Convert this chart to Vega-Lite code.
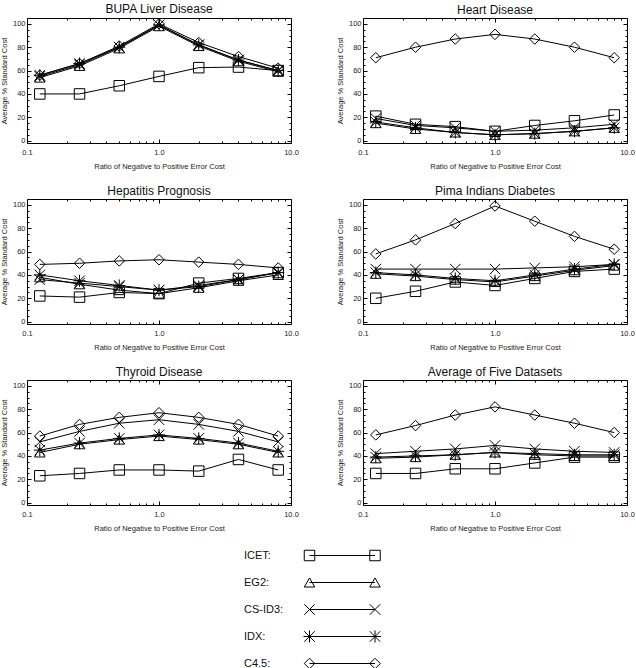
{
  "$schema": "https://vega.github.io/schema/vega-lite/v6.json",
  "background": "white",
  "padding": {"left": 0, "top": 2, "right": 0, "bottom": 0},
  "datasets": {
    "results": [
      {"set": "BUPA Liver Disease", "method": "ICET", "ratio": 0.125, "cost": 40},
      {"set": "BUPA Liver Disease", "method": "ICET", "ratio": 0.25, "cost": 40},
      {"set": "BUPA Liver Disease", "method": "ICET", "ratio": 0.5, "cost": 47},
      {"set": "BUPA Liver Disease", "method": "ICET", "ratio": 1, "cost": 55},
      {"set": "BUPA Liver Disease", "method": "ICET", "ratio": 2, "cost": 62.5},
      {"set": "BUPA Liver Disease", "method": "ICET", "ratio": 4, "cost": 63},
      {"set": "BUPA Liver Disease", "method": "ICET", "ratio": 8, "cost": 60},
      {"set": "BUPA Liver Disease", "method": "EG2", "ratio": 0.125, "cost": 54},
      {"set": "BUPA Liver Disease", "method": "EG2", "ratio": 0.25, "cost": 64},
      {"set": "BUPA Liver Disease", "method": "EG2", "ratio": 0.5, "cost": 79},
      {"set": "BUPA Liver Disease", "method": "EG2", "ratio": 1, "cost": 98},
      {"set": "BUPA Liver Disease", "method": "EG2", "ratio": 2, "cost": 81},
      {"set": "BUPA Liver Disease", "method": "EG2", "ratio": 4, "cost": 68},
      {"set": "BUPA Liver Disease", "method": "EG2", "ratio": 8, "cost": 59},
      {"set": "BUPA Liver Disease", "method": "CS-ID3", "ratio": 0.125, "cost": 55},
      {"set": "BUPA Liver Disease", "method": "CS-ID3", "ratio": 0.25, "cost": 65},
      {"set": "BUPA Liver Disease", "method": "CS-ID3", "ratio": 0.5, "cost": 80},
      {"set": "BUPA Liver Disease", "method": "CS-ID3", "ratio": 1, "cost": 99},
      {"set": "BUPA Liver Disease", "method": "CS-ID3", "ratio": 2, "cost": 82},
      {"set": "BUPA Liver Disease", "method": "CS-ID3", "ratio": 4, "cost": 69},
      {"set": "BUPA Liver Disease", "method": "CS-ID3", "ratio": 8, "cost": 60},
      {"set": "BUPA Liver Disease", "method": "IDX", "ratio": 0.125, "cost": 56},
      {"set": "BUPA Liver Disease", "method": "IDX", "ratio": 0.25, "cost": 66},
      {"set": "BUPA Liver Disease", "method": "IDX", "ratio": 0.5, "cost": 80},
      {"set": "BUPA Liver Disease", "method": "IDX", "ratio": 1, "cost": 99},
      {"set": "BUPA Liver Disease", "method": "IDX", "ratio": 2, "cost": 82},
      {"set": "BUPA Liver Disease", "method": "IDX", "ratio": 4, "cost": 69},
      {"set": "BUPA Liver Disease", "method": "IDX", "ratio": 8, "cost": 60},
      {"set": "BUPA Liver Disease", "method": "C4.5", "ratio": 0.125, "cost": 56},
      {"set": "BUPA Liver Disease", "method": "C4.5", "ratio": 0.25, "cost": 66},
      {"set": "BUPA Liver Disease", "method": "C4.5", "ratio": 0.5, "cost": 81},
      {"set": "BUPA Liver Disease", "method": "C4.5", "ratio": 1, "cost": 100},
      {"set": "BUPA Liver Disease", "method": "C4.5", "ratio": 2, "cost": 84},
      {"set": "BUPA Liver Disease", "method": "C4.5", "ratio": 4, "cost": 72},
      {"set": "BUPA Liver Disease", "method": "C4.5", "ratio": 8, "cost": 62},

      {"set": "Heart Disease", "method": "ICET", "ratio": 0.125, "cost": 21},
      {"set": "Heart Disease", "method": "ICET", "ratio": 0.25, "cost": 14},
      {"set": "Heart Disease", "method": "ICET", "ratio": 0.5, "cost": 12},
      {"set": "Heart Disease", "method": "ICET", "ratio": 1, "cost": 8},
      {"set": "Heart Disease", "method": "ICET", "ratio": 2, "cost": 13},
      {"set": "Heart Disease", "method": "ICET", "ratio": 4, "cost": 17},
      {"set": "Heart Disease", "method": "ICET", "ratio": 8, "cost": 22},
      {"set": "Heart Disease", "method": "EG2", "ratio": 0.125, "cost": 15},
      {"set": "Heart Disease", "method": "EG2", "ratio": 0.25, "cost": 10},
      {"set": "Heart Disease", "method": "EG2", "ratio": 0.5, "cost": 7},
      {"set": "Heart Disease", "method": "EG2", "ratio": 1, "cost": 5},
      {"set": "Heart Disease", "method": "EG2", "ratio": 2, "cost": 6},
      {"set": "Heart Disease", "method": "EG2", "ratio": 4, "cost": 8},
      {"set": "Heart Disease", "method": "EG2", "ratio": 8, "cost": 11},
      {"set": "Heart Disease", "method": "CS-ID3", "ratio": 0.125, "cost": 19},
      {"set": "Heart Disease", "method": "CS-ID3", "ratio": 0.25, "cost": 13},
      {"set": "Heart Disease", "method": "CS-ID3", "ratio": 0.5, "cost": 11},
      {"set": "Heart Disease", "method": "CS-ID3", "ratio": 1, "cost": 8},
      {"set": "Heart Disease", "method": "CS-ID3", "ratio": 2, "cost": 9},
      {"set": "Heart Disease", "method": "CS-ID3", "ratio": 4, "cost": 11},
      {"set": "Heart Disease", "method": "CS-ID3", "ratio": 8, "cost": 14},
      {"set": "Heart Disease", "method": "IDX", "ratio": 0.125, "cost": 16},
      {"set": "Heart Disease", "method": "IDX", "ratio": 0.25, "cost": 11},
      {"set": "Heart Disease", "method": "IDX", "ratio": 0.5, "cost": 7},
      {"set": "Heart Disease", "method": "IDX", "ratio": 1, "cost": 5},
      {"set": "Heart Disease", "method": "IDX", "ratio": 2, "cost": 6},
      {"set": "Heart Disease", "method": "IDX", "ratio": 4, "cost": 8},
      {"set": "Heart Disease", "method": "IDX", "ratio": 8, "cost": 11},
      {"set": "Heart Disease", "method": "C4.5", "ratio": 0.125, "cost": 71},
      {"set": "Heart Disease", "method": "C4.5", "ratio": 0.25, "cost": 80},
      {"set": "Heart Disease", "method": "C4.5", "ratio": 0.5, "cost": 87},
      {"set": "Heart Disease", "method": "C4.5", "ratio": 1, "cost": 91},
      {"set": "Heart Disease", "method": "C4.5", "ratio": 2, "cost": 87},
      {"set": "Heart Disease", "method": "C4.5", "ratio": 4, "cost": 80},
      {"set": "Heart Disease", "method": "C4.5", "ratio": 8, "cost": 71},

      {"set": "Hepatitis Prognosis", "method": "ICET", "ratio": 0.125, "cost": 22},
      {"set": "Hepatitis Prognosis", "method": "ICET", "ratio": 0.25, "cost": 21},
      {"set": "Hepatitis Prognosis", "method": "ICET", "ratio": 0.5, "cost": 25},
      {"set": "Hepatitis Prognosis", "method": "ICET", "ratio": 1, "cost": 24},
      {"set": "Hepatitis Prognosis", "method": "ICET", "ratio": 2, "cost": 33},
      {"set": "Hepatitis Prognosis", "method": "ICET", "ratio": 4, "cost": 37},
      {"set": "Hepatitis Prognosis", "method": "ICET", "ratio": 8, "cost": 42},
      {"set": "Hepatitis Prognosis", "method": "EG2", "ratio": 0.125, "cost": 38},
      {"set": "Hepatitis Prognosis", "method": "EG2", "ratio": 0.25, "cost": 32},
      {"set": "Hepatitis Prognosis", "method": "EG2", "ratio": 0.5, "cost": 27},
      {"set": "Hepatitis Prognosis", "method": "EG2", "ratio": 1, "cost": 24},
      {"set": "Hepatitis Prognosis", "method": "EG2", "ratio": 2, "cost": 29},
      {"set": "Hepatitis Prognosis", "method": "EG2", "ratio": 4, "cost": 35},
      {"set": "Hepatitis Prognosis", "method": "EG2", "ratio": 8, "cost": 40},
      {"set": "Hepatitis Prognosis", "method": "CS-ID3", "ratio": 0.125, "cost": 36},
      {"set": "Hepatitis Prognosis", "method": "CS-ID3", "ratio": 0.25, "cost": 33},
      {"set": "Hepatitis Prognosis", "method": "CS-ID3", "ratio": 0.5, "cost": 30},
      {"set": "Hepatitis Prognosis", "method": "CS-ID3", "ratio": 1, "cost": 27},
      {"set": "Hepatitis Prognosis", "method": "CS-ID3", "ratio": 2, "cost": 31},
      {"set": "Hepatitis Prognosis", "method": "CS-ID3", "ratio": 4, "cost": 36},
      {"set": "Hepatitis Prognosis", "method": "CS-ID3", "ratio": 8, "cost": 42},
      {"set": "Hepatitis Prognosis", "method": "IDX", "ratio": 0.125, "cost": 40},
      {"set": "Hepatitis Prognosis", "method": "IDX", "ratio": 0.25, "cost": 35},
      {"set": "Hepatitis Prognosis", "method": "IDX", "ratio": 0.5, "cost": 31},
      {"set": "Hepatitis Prognosis", "method": "IDX", "ratio": 1, "cost": 27},
      {"set": "Hepatitis Prognosis", "method": "IDX", "ratio": 2, "cost": 30},
      {"set": "Hepatitis Prognosis", "method": "IDX", "ratio": 4, "cost": 36},
      {"set": "Hepatitis Prognosis", "method": "IDX", "ratio": 8, "cost": 42},
      {"set": "Hepatitis Prognosis", "method": "C4.5", "ratio": 0.125, "cost": 49},
      {"set": "Hepatitis Prognosis", "method": "C4.5", "ratio": 0.25, "cost": 50},
      {"set": "Hepatitis Prognosis", "method": "C4.5", "ratio": 0.5, "cost": 52},
      {"set": "Hepatitis Prognosis", "method": "C4.5", "ratio": 1, "cost": 53},
      {"set": "Hepatitis Prognosis", "method": "C4.5", "ratio": 2, "cost": 51},
      {"set": "Hepatitis Prognosis", "method": "C4.5", "ratio": 4, "cost": 49},
      {"set": "Hepatitis Prognosis", "method": "C4.5", "ratio": 8, "cost": 46},

      {"set": "Pima Indians Diabetes", "method": "ICET", "ratio": 0.125, "cost": 20},
      {"set": "Pima Indians Diabetes", "method": "ICET", "ratio": 0.25, "cost": 26},
      {"set": "Pima Indians Diabetes", "method": "ICET", "ratio": 0.5, "cost": 34},
      {"set": "Pima Indians Diabetes", "method": "ICET", "ratio": 1, "cost": 31},
      {"set": "Pima Indians Diabetes", "method": "ICET", "ratio": 2, "cost": 37},
      {"set": "Pima Indians Diabetes", "method": "ICET", "ratio": 4, "cost": 43},
      {"set": "Pima Indians Diabetes", "method": "ICET", "ratio": 8, "cost": 45},
      {"set": "Pima Indians Diabetes", "method": "EG2", "ratio": 0.125, "cost": 41},
      {"set": "Pima Indians Diabetes", "method": "EG2", "ratio": 0.25, "cost": 39},
      {"set": "Pima Indians Diabetes", "method": "EG2", "ratio": 0.5, "cost": 36},
      {"set": "Pima Indians Diabetes", "method": "EG2", "ratio": 1, "cost": 34},
      {"set": "Pima Indians Diabetes", "method": "EG2", "ratio": 2, "cost": 39},
      {"set": "Pima Indians Diabetes", "method": "EG2", "ratio": 4, "cost": 44},
      {"set": "Pima Indians Diabetes", "method": "EG2", "ratio": 8, "cost": 48},
      {"set": "Pima Indians Diabetes", "method": "CS-ID3", "ratio": 0.125, "cost": 45},
      {"set": "Pima Indians Diabetes", "method": "CS-ID3", "ratio": 0.25, "cost": 45},
      {"set": "Pima Indians Diabetes", "method": "CS-ID3", "ratio": 0.5, "cost": 45},
      {"set": "Pima Indians Diabetes", "method": "CS-ID3", "ratio": 1, "cost": 45},
      {"set": "Pima Indians Diabetes", "method": "CS-ID3", "ratio": 2, "cost": 46},
      {"set": "Pima Indians Diabetes", "method": "CS-ID3", "ratio": 4, "cost": 47},
      {"set": "Pima Indians Diabetes", "method": "CS-ID3", "ratio": 8, "cost": 49},
      {"set": "Pima Indians Diabetes", "method": "IDX", "ratio": 0.125, "cost": 42},
      {"set": "Pima Indians Diabetes", "method": "IDX", "ratio": 0.25, "cost": 40},
      {"set": "Pima Indians Diabetes", "method": "IDX", "ratio": 0.5, "cost": 37},
      {"set": "Pima Indians Diabetes", "method": "IDX", "ratio": 1, "cost": 35},
      {"set": "Pima Indians Diabetes", "method": "IDX", "ratio": 2, "cost": 40},
      {"set": "Pima Indians Diabetes", "method": "IDX", "ratio": 4, "cost": 45},
      {"set": "Pima Indians Diabetes", "method": "IDX", "ratio": 8, "cost": 49},
      {"set": "Pima Indians Diabetes", "method": "C4.5", "ratio": 0.125, "cost": 58},
      {"set": "Pima Indians Diabetes", "method": "C4.5", "ratio": 0.25, "cost": 70},
      {"set": "Pima Indians Diabetes", "method": "C4.5", "ratio": 0.5, "cost": 84},
      {"set": "Pima Indians Diabetes", "method": "C4.5", "ratio": 1, "cost": 99},
      {"set": "Pima Indians Diabetes", "method": "C4.5", "ratio": 2, "cost": 86},
      {"set": "Pima Indians Diabetes", "method": "C4.5", "ratio": 4, "cost": 73},
      {"set": "Pima Indians Diabetes", "method": "C4.5", "ratio": 8, "cost": 62},

      {"set": "Thyroid Disease", "method": "ICET", "ratio": 0.125, "cost": 23},
      {"set": "Thyroid Disease", "method": "ICET", "ratio": 0.25, "cost": 25},
      {"set": "Thyroid Disease", "method": "ICET", "ratio": 0.5, "cost": 28},
      {"set": "Thyroid Disease", "method": "ICET", "ratio": 1, "cost": 28},
      {"set": "Thyroid Disease", "method": "ICET", "ratio": 2, "cost": 27},
      {"set": "Thyroid Disease", "method": "ICET", "ratio": 4, "cost": 37},
      {"set": "Thyroid Disease", "method": "ICET", "ratio": 8, "cost": 28},
      {"set": "Thyroid Disease", "method": "EG2", "ratio": 0.125, "cost": 43},
      {"set": "Thyroid Disease", "method": "EG2", "ratio": 0.25, "cost": 50},
      {"set": "Thyroid Disease", "method": "EG2", "ratio": 0.5, "cost": 54},
      {"set": "Thyroid Disease", "method": "EG2", "ratio": 1, "cost": 57},
      {"set": "Thyroid Disease", "method": "EG2", "ratio": 2, "cost": 54},
      {"set": "Thyroid Disease", "method": "EG2", "ratio": 4, "cost": 50},
      {"set": "Thyroid Disease", "method": "EG2", "ratio": 8, "cost": 43},
      {"set": "Thyroid Disease", "method": "CS-ID3", "ratio": 0.125, "cost": 52},
      {"set": "Thyroid Disease", "method": "CS-ID3", "ratio": 0.25, "cost": 61},
      {"set": "Thyroid Disease", "method": "CS-ID3", "ratio": 0.5, "cost": 68},
      {"set": "Thyroid Disease", "method": "CS-ID3", "ratio": 1, "cost": 71},
      {"set": "Thyroid Disease", "method": "CS-ID3", "ratio": 2, "cost": 67},
      {"set": "Thyroid Disease", "method": "CS-ID3", "ratio": 4, "cost": 61},
      {"set": "Thyroid Disease", "method": "CS-ID3", "ratio": 8, "cost": 52},
      {"set": "Thyroid Disease", "method": "IDX", "ratio": 0.125, "cost": 45},
      {"set": "Thyroid Disease", "method": "IDX", "ratio": 0.25, "cost": 51},
      {"set": "Thyroid Disease", "method": "IDX", "ratio": 0.5, "cost": 55},
      {"set": "Thyroid Disease", "method": "IDX", "ratio": 1, "cost": 58},
      {"set": "Thyroid Disease", "method": "IDX", "ratio": 2, "cost": 55},
      {"set": "Thyroid Disease", "method": "IDX", "ratio": 4, "cost": 51},
      {"set": "Thyroid Disease", "method": "IDX", "ratio": 8, "cost": 44},
      {"set": "Thyroid Disease", "method": "C4.5", "ratio": 0.125, "cost": 57},
      {"set": "Thyroid Disease", "method": "C4.5", "ratio": 0.25, "cost": 67},
      {"set": "Thyroid Disease", "method": "C4.5", "ratio": 0.5, "cost": 73},
      {"set": "Thyroid Disease", "method": "C4.5", "ratio": 1, "cost": 77},
      {"set": "Thyroid Disease", "method": "C4.5", "ratio": 2, "cost": 73},
      {"set": "Thyroid Disease", "method": "C4.5", "ratio": 4, "cost": 67},
      {"set": "Thyroid Disease", "method": "C4.5", "ratio": 8, "cost": 57},

      {"set": "Average of Five Datasets", "method": "ICET", "ratio": 0.125, "cost": 25},
      {"set": "Average of Five Datasets", "method": "ICET", "ratio": 0.25, "cost": 25},
      {"set": "Average of Five Datasets", "method": "ICET", "ratio": 0.5, "cost": 29},
      {"set": "Average of Five Datasets", "method": "ICET", "ratio": 1, "cost": 29},
      {"set": "Average of Five Datasets", "method": "ICET", "ratio": 2, "cost": 34},
      {"set": "Average of Five Datasets", "method": "ICET", "ratio": 4, "cost": 39},
      {"set": "Average of Five Datasets", "method": "ICET", "ratio": 8, "cost": 39},
      {"set": "Average of Five Datasets", "method": "EG2", "ratio": 0.125, "cost": 38},
      {"set": "Average of Five Datasets", "method": "EG2", "ratio": 0.25, "cost": 39},
      {"set": "Average of Five Datasets", "method": "EG2", "ratio": 0.5, "cost": 41},
      {"set": "Average of Five Datasets", "method": "EG2", "ratio": 1, "cost": 43},
      {"set": "Average of Five Datasets", "method": "EG2", "ratio": 2, "cost": 41},
      {"set": "Average of Five Datasets", "method": "EG2", "ratio": 4, "cost": 40},
      {"set": "Average of Five Datasets", "method": "EG2", "ratio": 8, "cost": 40},
      {"set": "Average of Five Datasets", "method": "CS-ID3", "ratio": 0.125, "cost": 42},
      {"set": "Average of Five Datasets", "method": "CS-ID3", "ratio": 0.25, "cost": 44},
      {"set": "Average of Five Datasets", "method": "CS-ID3", "ratio": 0.5, "cost": 46},
      {"set": "Average of Five Datasets", "method": "CS-ID3", "ratio": 1, "cost": 49},
      {"set": "Average of Five Datasets", "method": "CS-ID3", "ratio": 2, "cost": 46},
      {"set": "Average of Five Datasets", "method": "CS-ID3", "ratio": 4, "cost": 44},
      {"set": "Average of Five Datasets", "method": "CS-ID3", "ratio": 8, "cost": 43},
      {"set": "Average of Five Datasets", "method": "IDX", "ratio": 0.125, "cost": 39},
      {"set": "Average of Five Datasets", "method": "IDX", "ratio": 0.25, "cost": 40},
      {"set": "Average of Five Datasets", "method": "IDX", "ratio": 0.5, "cost": 41},
      {"set": "Average of Five Datasets", "method": "IDX", "ratio": 1, "cost": 43},
      {"set": "Average of Five Datasets", "method": "IDX", "ratio": 2, "cost": 42},
      {"set": "Average of Five Datasets", "method": "IDX", "ratio": 4, "cost": 41},
      {"set": "Average of Five Datasets", "method": "IDX", "ratio": 8, "cost": 41},
      {"set": "Average of Five Datasets", "method": "C4.5", "ratio": 0.125, "cost": 58},
      {"set": "Average of Five Datasets", "method": "C4.5", "ratio": 0.25, "cost": 66},
      {"set": "Average of Five Datasets", "method": "C4.5", "ratio": 0.5, "cost": 75},
      {"set": "Average of Five Datasets", "method": "C4.5", "ratio": 1, "cost": 82},
      {"set": "Average of Five Datasets", "method": "C4.5", "ratio": 2, "cost": 75},
      {"set": "Average of Five Datasets", "method": "C4.5", "ratio": 4, "cost": 68},
      {"set": "Average of Five Datasets", "method": "C4.5", "ratio": 8, "cost": 60}
    ],
    "keys": [
      {"method": "ICET", "label": "ICET:", "pos": 0},
      {"method": "ICET", "label": "ICET:", "pos": 1},
      {"method": "EG2", "label": "EG2:", "pos": 0},
      {"method": "EG2", "label": "EG2:", "pos": 1},
      {"method": "CS-ID3", "label": "CS-ID3:", "pos": 0},
      {"method": "CS-ID3", "label": "CS-ID3:", "pos": 1},
      {"method": "IDX", "label": "IDX:", "pos": 0},
      {"method": "IDX", "label": "IDX:", "pos": 1},
      {"method": "C4.5", "label": "C4.5:", "pos": 0},
      {"method": "C4.5", "label": "C4.5:", "pos": 1}
    ]
  },
  "vconcat": [
    {
      "data": {"name": "results"},
      "facet": {
        "field": "set",
        "type": "nominal",
        "sort": ["BUPA Liver Disease", "Heart Disease", "Hepatitis Prognosis", "Pima Indians Diabetes", "Thyroid Disease", "Average of Five Datasets"],
        "header": {"title": null, "labelFontSize": 12, "labelColor": "#111", "labelPadding": 1, "labelFont": "Liberation Sans"}
      },
      "columns": 2,
      "bounds": "flush",
      "spacing": {"row": 56, "column": 72},
      "resolve": {"axis": {"x": "independent", "y": "independent"}},
      "spec": {
        "width": 264,
        "height": 125,
        "resolve": {"axis": {"x": "independent", "y": "independent"}},
        "layer": [
          {
            "mark": {"type": "line", "color": "#000", "strokeWidth": 1},
            "encoding": {
              "x": {
                "field": "ratio", "type": "quantitative",
                "scale": {"type": "log", "domain": [0.1, 10], "nice": false},
                "axis": {
                  "orient": "bottom",
                  "values": [0.1, 0.2, 0.3, 0.4, 0.5, 0.6, 0.7, 0.8, 0.9, 1, 2, 3, 4, 5, 6, 7, 8, 9, 10],
                  "labelExpr": "datum.value == 0.1 ? '0.1' : datum.value == 1 ? '1.0' : datum.value == 10 ? '10.0' : ''",
                  "labelOverlap": false,
                  "labelFlush": false,
                  "tickSize": {"condition": {"test": "datum.value == 0.1 || datum.value == 1 || datum.value == 10", "value": -4}, "value": -2},
                  "labelPadding": 9.5,
                  "title": "Ratio of Negative to Positive Error Cost",
                  "titlePadding": 4
                }
              },
              "y": {
                "field": "cost", "type": "quantitative",
                "scale": {"domain": [-2, 105], "nice": false, "zero": false},
                "axis": {
                  "orient": "left",
                  "values": [0, 5, 10, 15, 20, 25, 30, 35, 40, 45, 50, 55, 60, 65, 70, 75, 80, 85, 90, 95, 100],
                  "labelExpr": "datum.value % 20 == 0 ? datum.label : ''",
                  "labelOverlap": false,
                  "labelFlush": false,
                  "tickSize": {"condition": {"test": "datum.value % 20 == 0", "value": -4}, "value": -2},
                  "labelPadding": 6,
                  "title": "Average % Standard Cost",
                  "titlePadding": 4
                }
              },
              "detail": {"field": "method"}
            }
          },
          {
            "mark": {"type": "point", "filled": false, "stroke": "#000", "strokeWidth": 1, "size": 110, "opacity": 1},
            "encoding": {
              "x": {
                "field": "ratio", "type": "quantitative",
                "axis": {
                  "orient": "top",
                  "values": [0.1, 0.2, 0.3, 0.4, 0.5, 0.6, 0.7, 0.8, 0.9, 1, 2, 3, 4, 5, 6, 7, 8, 9, 10],
                  "labels": false,
                  "title": null,
                  "tickSize": {"condition": {"test": "datum.value == 0.1 || datum.value == 1 || datum.value == 10", "value": -4}, "value": -2}
                }
              },
              "y": {
                "field": "cost", "type": "quantitative",
                "axis": {
                  "orient": "right",
                  "values": [0, 5, 10, 15, 20, 25, 30, 35, 40, 45, 50, 55, 60, 65, 70, 75, 80, 85, 90, 95, 100],
                  "labels": false,
                  "title": null,
                  "tickSize": {"condition": {"test": "datum.value % 20 == 0", "value": -4}, "value": -2}
                }
              },
              "shape": {
                "field": "method", "type": "nominal",
                "scale": {
                  "domain": ["ICET", "EG2", "CS-ID3", "IDX", "C4.5"],
                  "range": ["square", "triangle-up", "M-1,-1L1,1M-1,1L1,-1", "M-1,-1L1,1M-1,1L1,-1M0,-1.15L0,1.15M-1.15,0L1.15,0", "diamond"]
                },
                "legend": null
              }
            }
          }
        ]
      }
    },
    {
      "data": {"name": "keys"},
      "width": 348,
      "height": 135,
      "layer": [
        {
          "mark": {"type": "line", "color": "#000", "strokeWidth": 1},
          "encoding": {
            "x": {"field": "pos", "type": "quantitative", "scale": {"domain": [-4.313, 1], "nice": false, "zero": false}, "axis": null},
            "y": {"field": "method", "type": "nominal", "sort": ["ICET", "EG2", "CS-ID3", "IDX", "C4.5"], "scale": {"type": "point", "padding": 0.5}, "axis": null},
            "detail": {"field": "method"}
          }
        },
        {
          "mark": {"type": "point", "filled": false, "stroke": "#000", "strokeWidth": 1, "size": 110, "opacity": 1},
          "encoding": {
            "x": {"field": "pos", "type": "quantitative"},
            "y": {"field": "method", "type": "nominal", "sort": ["ICET", "EG2", "CS-ID3", "IDX", "C4.5"]},
            "shape": {
              "field": "method", "type": "nominal",
              "scale": {
                "domain": ["ICET", "EG2", "CS-ID3", "IDX", "C4.5"],
                "range": ["square", "triangle-up", "M-1,-1L1,1M-1,1L1,-1", "M-1,-1L1,1M-1,1L1,-1M0,-1.15L0,1.15M-1.15,0L1.15,0", "diamond"]
              },
              "legend": null
            }
          }
        },
        {
          "transform": [{"filter": "datum.pos == 0"}],
          "mark": {"type": "text", "align": "left", "baseline": "middle", "fontSize": 11, "color": "#111", "font": "Liberation Sans"},
          "encoding": {
            "x": {"datum": -1, "type": "quantitative"},
            "y": {"field": "method", "type": "nominal", "sort": ["ICET", "EG2", "CS-ID3", "IDX", "C4.5"]},
            "text": {"field": "label"}
          }
        }
      ]
    }
  ],
  "spacing": 10,
  "resolve": {"scale": {"x": "independent", "y": "independent", "shape": "independent"}},
  "config": {
    "font": "Liberation Sans",
    "view": {"stroke": null},
    "axis": {
      "grid": false,
      "domainColor": "#000",
      "domainWidth": 1,
      "tickColor": "#000",
      "tickWidth": 1,
      "labelColor": "#222",
      "titleColor": "#222",
      "labelFontSize": 7.5,
      "titleFontSize": 7.5,
      "titleFontWeight": "normal",
      "labelFont": "Liberation Sans",
      "titleFont": "Liberation Sans"
    }
  }
}
